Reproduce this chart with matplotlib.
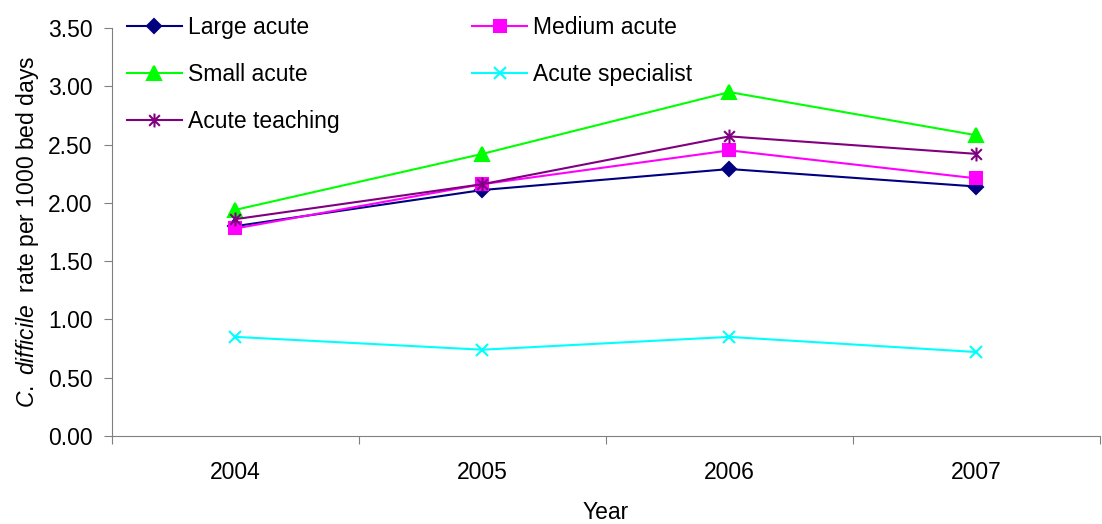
import numpy as np
import matplotlib
matplotlib.use('Agg')
import matplotlib.pyplot as plt
from matplotlib.path import Path

plt.rcParams.update({'font.family':'Liberation Sans','font.size':16.5,
                     'mathtext.fontset':'custom','mathtext.it':'Liberation Sans:italic',
                     'mathtext.rm':'Liberation Sans'})

years=['2004','2005','2006','2007']
large_acute=[1.80,2.11,2.29,2.14]
medium_acute=[1.78,2.16,2.45,2.21]
small_acute=[1.94,2.42,2.95,2.58]
acute_specialist=[0.85,0.74,0.85,0.72]
acute_teaching=[1.86,2.16,2.57,2.42]

# excel-style star: x plus vertical bar
STAR=Path([(-1,-1),(1,1),(-1,1),(1,-1),(0,-1.3),(0,1.3)],
          [Path.MOVETO,Path.LINETO,Path.MOVETO,Path.LINETO,Path.MOVETO,Path.LINETO])

fig=plt.figure(figsize=(11.02,5.24),dpi=100)
ax=fig.add_axes([0.1016,0.168,0.8964,0.7786])
x=np.arange(len(years))
series=[('Large acute',large_acute,'#000080','D',7.5),
        ('Medium acute',medium_acute,'#FF00FF','s',8),
        ('Small acute',small_acute,'#00FF00','^',10),
        ('Acute specialist',acute_specialist,'#00FFFF','x',8),
        ('Acute teaching',acute_teaching,'#800080',STAR,10)]
for lbl,v,c,m,ms in series:
    ax.plot(x,v,color=c,lw=1.5,marker=m,ms=ms,mfc=c,mec=c,mew=1.5,label=lbl)

ax.set_xlim(-0.5,3.5); ax.set_ylim(0,3.5)
ax.set_yticks(np.arange(0,3.51,0.5))
ax.set_yticklabels([f'{t:.2f}' for t in np.arange(0,3.51,0.5)])
ax.set_xticks(np.arange(-0.5,3.6,1.0))
ax.set_xticklabels([])
ax.set_xticks(x,minor=True)
ax.set_xticklabels(years,minor=True)
ax.tick_params(axis='x',which='minor',length=0,pad=18)
ax.tick_params(axis='x',which='major',length=6,color='#808080',direction='out')
ax.tick_params(axis='y',length=6,color='#808080',direction='out',pad=8)
for s in ['top','right']: ax.spines[s].set_visible(False)
for s in ['left','bottom']: ax.spines[s].set_color('#808080')
ax.set_xlabel('Year',labelpad=12)
ax.set_ylabel(r'$\it{C.\ difficile}$  rate per 1000 bed days',labelpad=5)

h,l=ax.get_legend_handles_labels()
order=[0,2,4,1,3]
ax.legend([h[i] for i in order],[l[i] for i in order],ncol=2,frameon=False,
          loc='upper left',bbox_to_anchor=(0.015,1.03),handlelength=2.4,columnspacing=5.8,
          labelspacing=1.05,handletextpad=0.25,borderaxespad=0,borderpad=0)

fig.savefig('out.png',dpi=100)
